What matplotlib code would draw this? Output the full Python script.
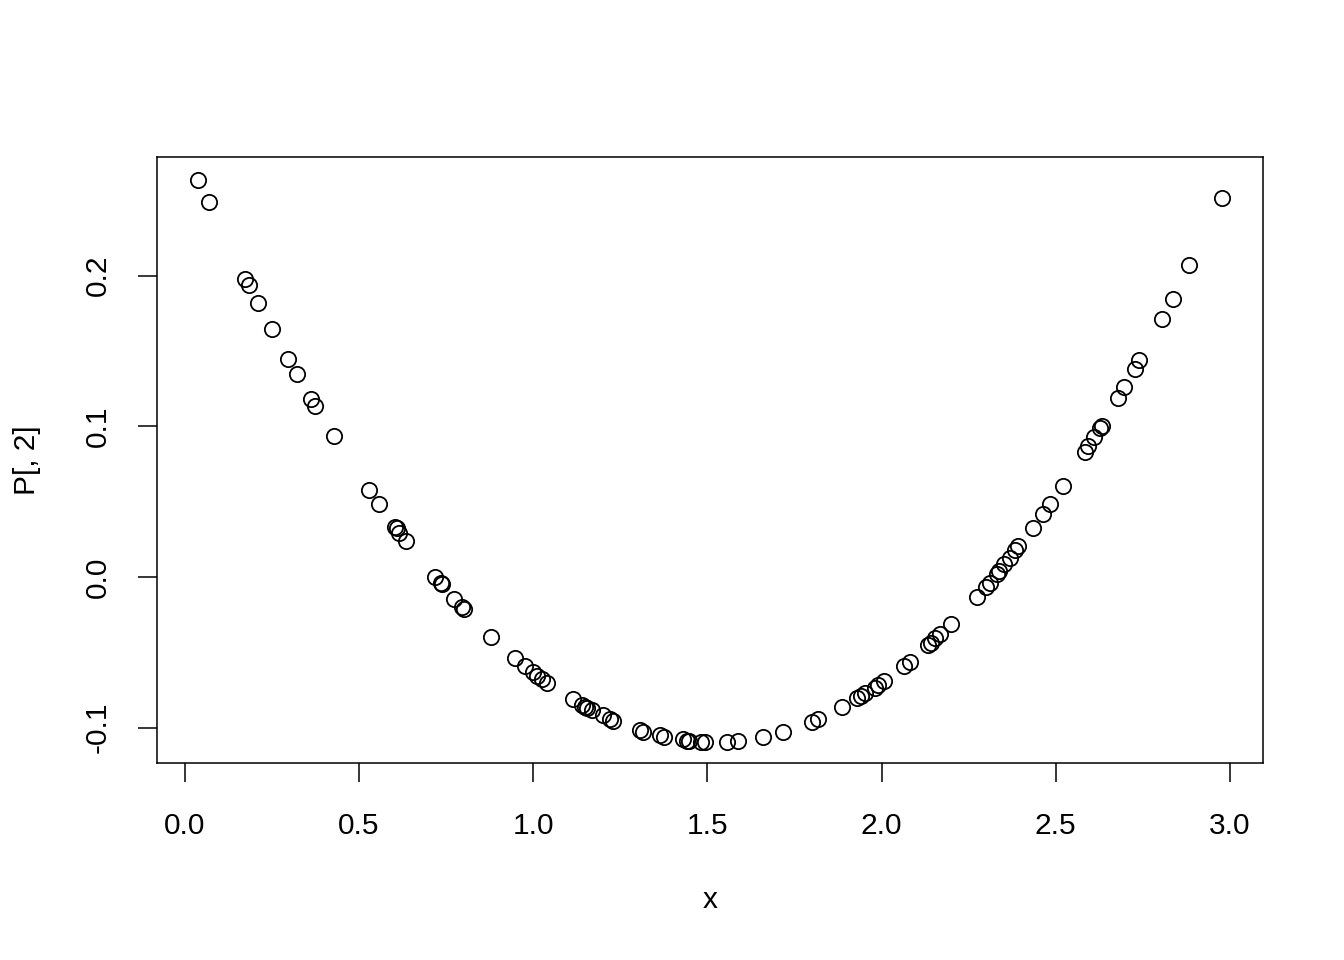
import matplotlib
matplotlib.use('Agg')
import matplotlib.pyplot as plt

plt.rcParams['font.family'] = ['Liberation Sans', 'DejaVu Sans']

# points
x = [0.037, 0.069, 0.172, 0.184, 0.210, 0.250, 0.296, 0.322, 0.362, 0.373,
     0.428, 0.528, 0.557, 0.603, 0.609, 0.614, 0.634, 0.718, 0.735, 0.738,
     0.772, 0.795, 0.801, 0.878, 0.947, 0.976, 0.999, 1.011, 1.025, 1.039,
     1.114, 1.140, 1.148, 1.154, 1.168, 1.200, 1.220, 1.229, 1.306, 1.315,
     1.364, 1.375, 1.430, 1.441, 1.447, 1.481, 1.493, 1.556, 1.588, 1.659,
     1.717, 1.800, 1.817, 1.886, 1.929, 1.941, 1.952, 1.981, 1.989, 2.007,
     2.064, 2.081, 2.133, 2.142, 2.153, 2.167, 2.199, 2.274, 2.300, 2.311,
     2.331, 2.337, 2.351, 2.368, 2.383, 2.391, 2.434, 2.463, 2.483, 2.521,
     2.584, 2.592, 2.610, 2.627, 2.633, 2.679, 2.696, 2.727, 2.739, 2.805,
     2.836, 2.882, 2.977]
p2 = [0.2634, 0.2488, 0.1977, 0.1938, 0.1818, 0.1646, 0.1447, 0.1347, 0.1181, 0.1135,
      0.0936, 0.0577, 0.0484, 0.0332, 0.0325, 0.0292, 0.0239, 0.0000, -0.0040, -0.0046,
      -0.0146, -0.0199, -0.0212, -0.0398, -0.0537, -0.0591, -0.0630, -0.0657, -0.0677, -0.0703,
      -0.0810, -0.0849, -0.0863, -0.0869, -0.0883, -0.0916, -0.0942, -0.0956, -0.1015, -0.1029,
      -0.1048, -0.1062, -0.1075, -0.1088, -0.1088, -0.1095, -0.1095, -0.1095, -0.1088, -0.1062,
      -0.1029, -0.0962, -0.0942, -0.0863, -0.0803, -0.0790, -0.0770, -0.0737, -0.0717, -0.0690,
      -0.0591, -0.0564, -0.0451, -0.0438, -0.0405, -0.0378, -0.0312, -0.0133, -0.0066, -0.0040,
      0.0020, 0.0040, 0.0086, 0.0126, 0.0179, 0.0206, 0.0325, 0.0418, 0.0484, 0.0604,
      0.0829, 0.0869, 0.0929, 0.0989, 0.1002, 0.1188, 0.1261, 0.1380, 0.1440, 0.1712,
      0.1845, 0.2070, 0.2515]

xticks = [0.0, 0.5, 1.0, 1.5, 2.0, 2.5, 3.0]
yticks = [-0.1, 0.0, 0.1, 0.2]

fig = plt.figure(figsize=(13.44, 9.6), dpi=100)
ax = fig.add_axes([157/1344, 1 - 763/960, (1263 - 157)/1344, (763 - 157)/960])

ax.plot(x, p2, linestyle='none', marker='o', ms=11, mfc='none',
        mec='black', mew=1.3)

ax.set_xlim(-0.080, 3.095)
ax.set_ylim(-0.1234, 0.2787)

fs = 21.5
ax.set_xticks(xticks)
ax.set_xticklabels(['%.1f' % v for v in xticks], fontsize=fs)
ax.set_yticks(yticks)
ax.set_yticklabels(['%.1f' % v for v in yticks], fontsize=fs,
                   rotation=90, va='center')
ax.tick_params(direction='out', length=13.5, width=1.1)
ax.tick_params(axis='x', pad=21.5)
ax.tick_params(axis='y', pad=19)

for s in ax.spines.values():
    s.set_linewidth(1.1)

# axis titles placed like R does
fig.text(710/1344, 1 - 900/960, 'x', fontsize=fs, ha='center', va='center')
fig.text(27/1344, 1 - 460/960, 'P[, 2]', fontsize=fs, ha='center',
         va='center', rotation=90)

plt.savefig('out.png', dpi=100)
